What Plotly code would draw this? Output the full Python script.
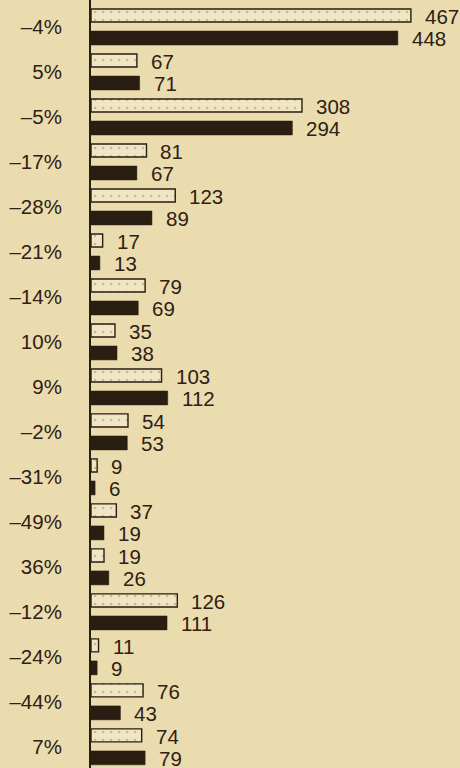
import plotly.graph_objects as go

# Percent change labels (one per row, top to bottom)
changes = ["–4%", "5%", "–5%", "–17%", "–28%", "–21%", "–14%", "10%", "9%",
           "–2%", "–31%", "–49%", "36%", "–12%", "–24%", "–44%", "7%"]
# Earlier period (light, dotted bars)
earlier = [467, 67, 308, 81, 123, 17, 79, 35, 103, 54, 9, 37, 19, 126, 11, 76, 74]
# Later period (dark bars)
later = [448, 71, 294, 67, 89, 13, 69, 38, 112, 53, 6, 19, 26, 111, 9, 43, 79]

BG = "#eadcae"
INK = "#2a1d11"
TEXT = "#2e2014"
FONT = "Liberation Sans, Arial, Helvetica, sans-serif"
FS = 20.5

fig = go.Figure()
fig.add_trace(go.Bar(
    y=changes, x=earlier, orientation="h", name="earlier",
    offset=-0.4, width=0.29,
    marker=dict(
        color="#f0e6c3",
        line=dict(color=INK, width=1.4),
        pattern=dict(shape=".", size=8, solidity=0.08, fgcolor="#9c8b6a",
                     bgcolor="#f0e6c3"),
    ),
))
fig.add_trace(go.Bar(
    y=changes, x=later, orientation="h", name="later",
    offset=0.09, width=0.31,
    marker=dict(color=INK, line=dict(color=INK, width=0.5)),
))


def value_label(value, cat, shift):
    # compact text box so stacked value labels sit close together
    return dict(x=value, y=cat, xref="x", yref="y", text=str(value),
                showarrow=False, xanchor="left", yanchor="middle",
                xshift=13, yshift=shift, height=20, borderpad=0,
                font=dict(family=FONT, size=FS, color=TEXT))


annotations = []
for cat, a, b in zip(changes, earlier, later):
    annotations.append(value_label(a, cat, 10.5))
    annotations.append(value_label(b, cat, -11))

fig.update_layout(
    width=460, height=768,
    margin=dict(l=91, r=0, t=0, b=0),
    paper_bgcolor=BG, plot_bgcolor=BG,
    barmode="overlay",
    showlegend=False,
    annotations=annotations,
    font=dict(family=FONT, size=FS, color=TEXT),
)
fig.update_xaxes(range=[0, 538.7], visible=False, showgrid=False, zeroline=False)
fig.update_yaxes(
    type="category", categoryorder="array", categoryarray=changes,
    range=[16.47, -0.6],
    showline=True, linecolor=INK, linewidth=2,
    showgrid=False, zeroline=False, ticks="",
    ticklabelstandoff=23,
    tickfont=dict(family=FONT, size=FS, color=TEXT),
)

fig.write_html("out.html")
